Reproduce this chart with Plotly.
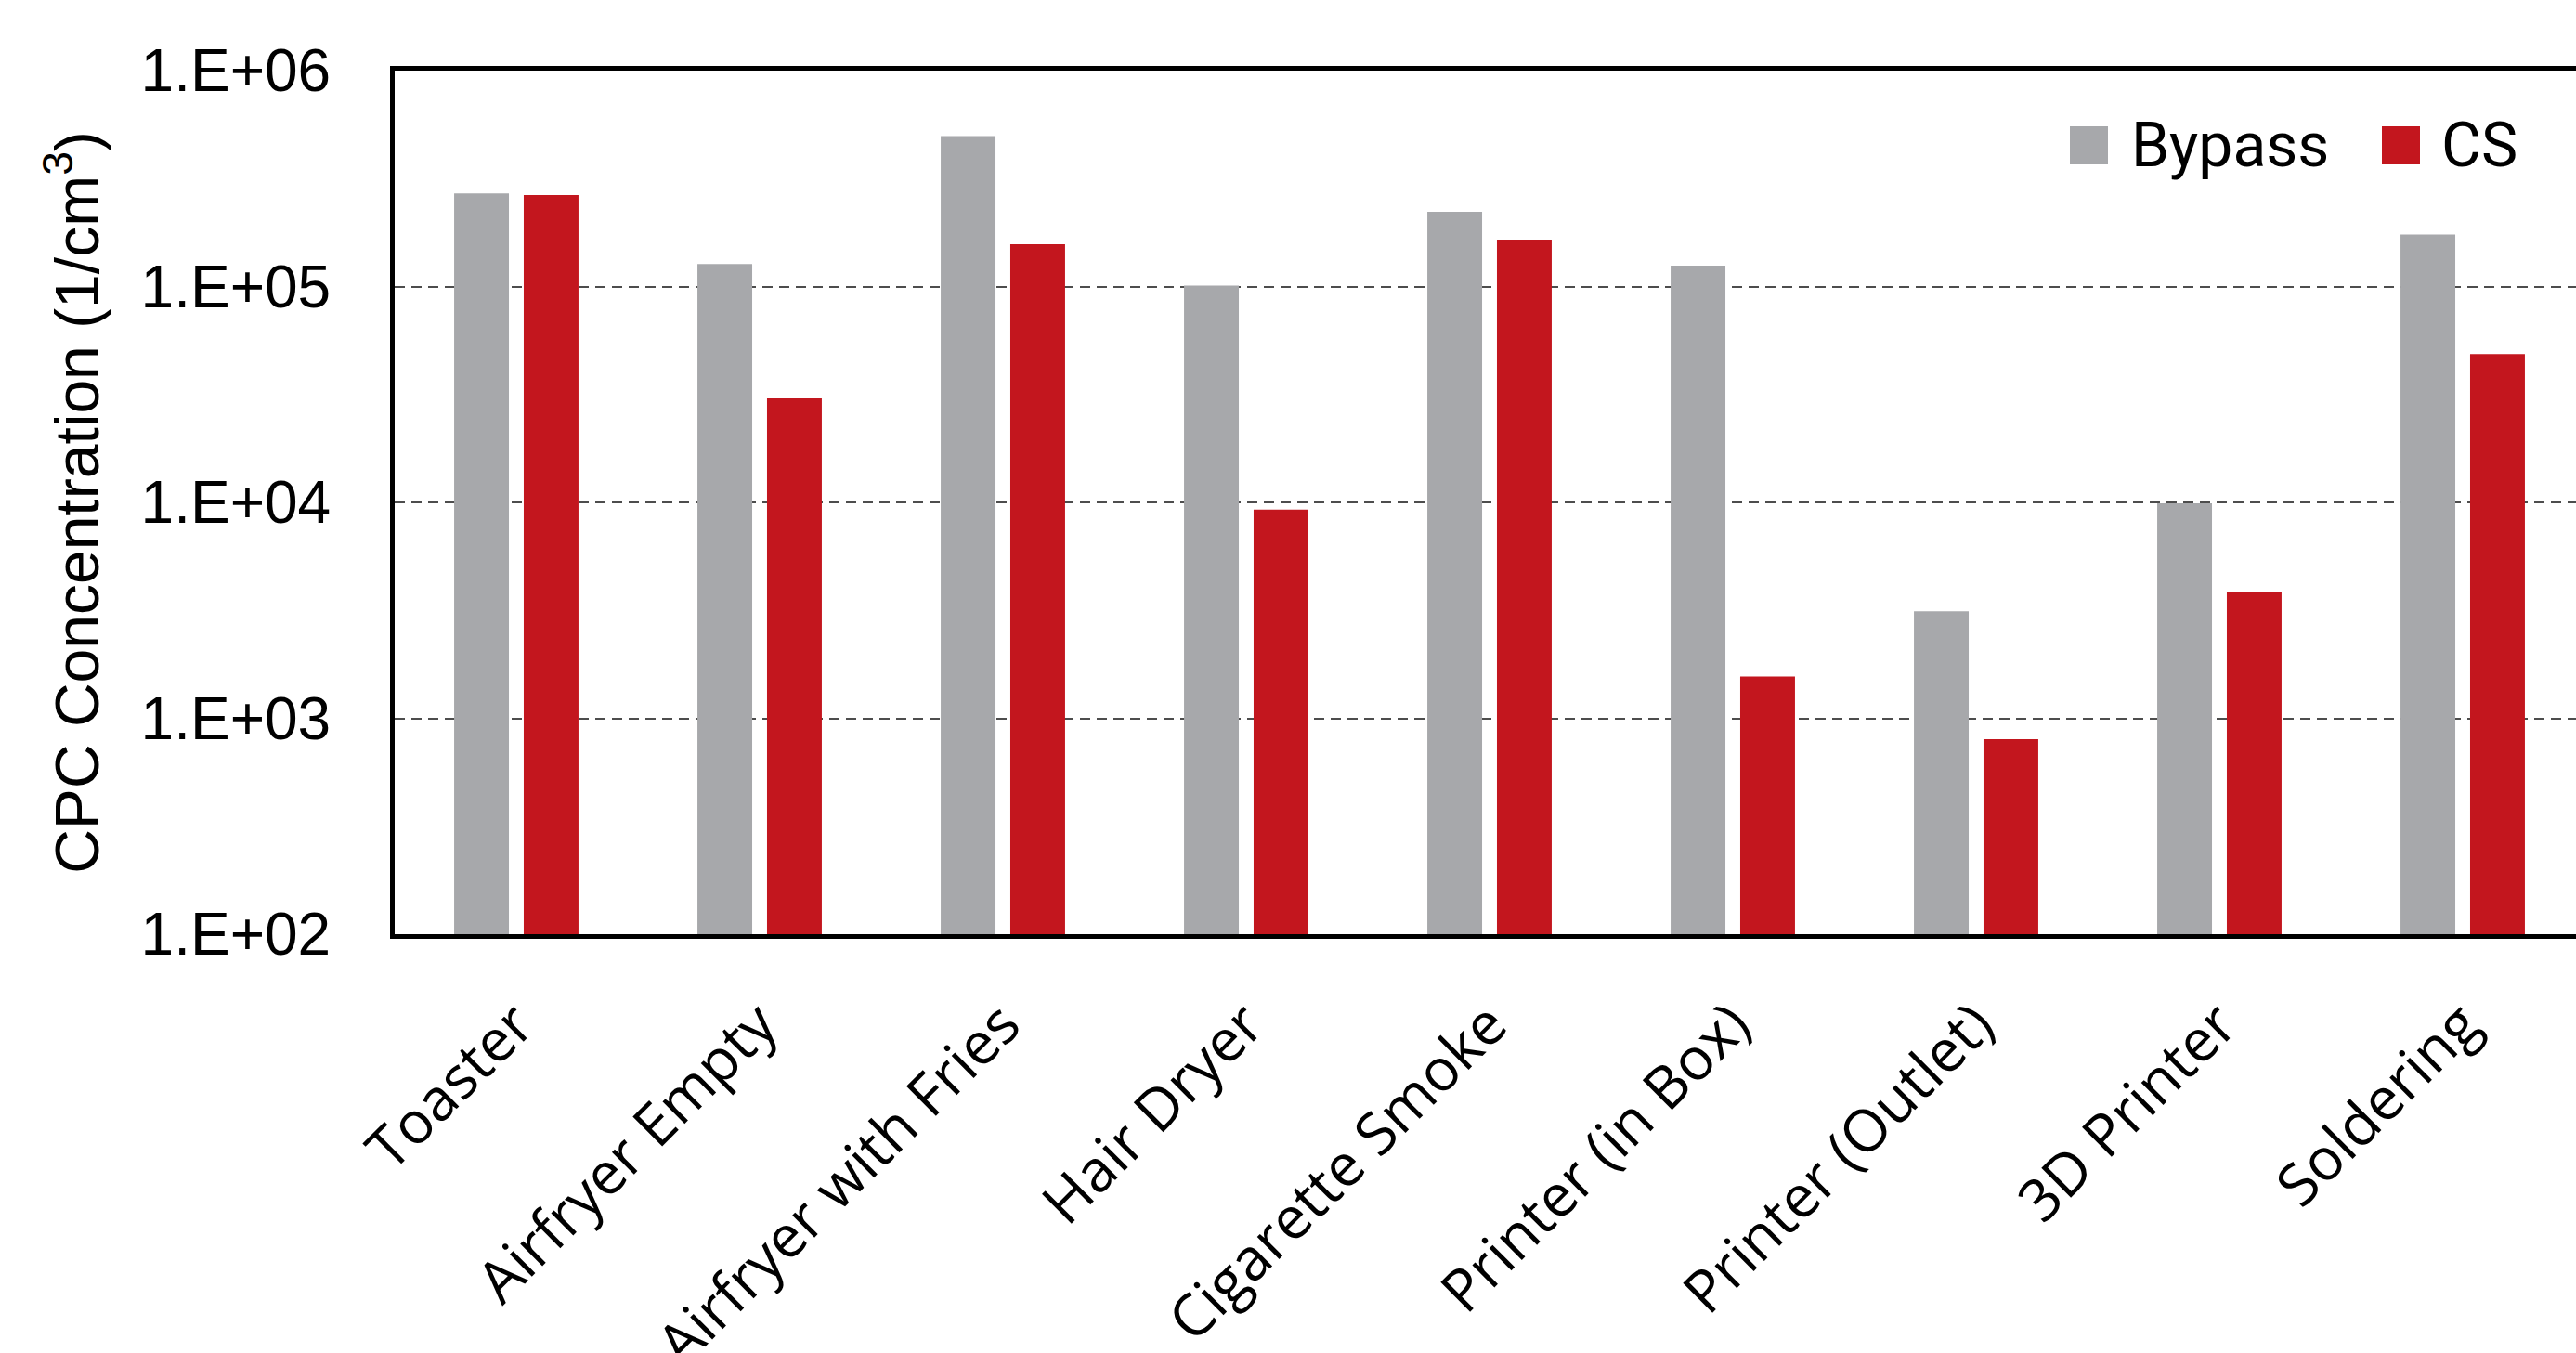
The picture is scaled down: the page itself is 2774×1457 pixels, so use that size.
import plotly.graph_objects as go

categories = ["Toaster", "Airfryer Empty", "Airfryer with Fries", "Hair Dryer",
              "Cigarette Smoke", "Printer (in Box)", "Printer (Outlet)", "3D Printer", "Soldering"]
bypass = [2.70e5, 1.27e5, 4.97e5, 1.01e5, 2.22e5, 1.25e5, 3.13e3, 9.9e3, 1.74e5]
cs = [2.65e5, 3.03e4, 1.57e5, 9.25e3, 1.65e5, 1.56e3, 8.0e2, 3.86e3, 4.86e4]
series_names = ["Bypass", "CS"]
y_tickvals = [1e2, 1e3, 1e4, 1e5, 1e6]
y_ticktext = ["1.E+02", "1.E+03", "1.E+04", "1.E+05", "1.E+06"]

GRAY = "#A7A8AB"
RED = "#C3161E"

fig = go.Figure()
fig.add_trace(go.Bar(x=categories, y=bypass, name=series_names[0], marker_color=GRAY,
                     marker_line_width=0, showlegend=False))
fig.add_trace(go.Bar(x=categories, y=cs, name=series_names[1], marker_color=RED,
                     marker_line_width=0, showlegend=False))

W, H = 2774, 1457
L, T, B = 425, 76, 451
plot_w = W - L
cat_px = 262.0
x_max = -0.5 + plot_w / cat_px

fig.update_layout(
    width=W, height=H,
    margin=dict(l=L, r=0, t=T, b=B, autoexpand=False),
    paper_bgcolor="white", plot_bgcolor="white",
    barmode="group", bargap=0.428, bargroupgap=0.213,
    showlegend=False,
    font=dict(family="Liberation Sans, Arial, sans-serif", color="black"),
)

fig.update_xaxes(
    range=[-0.5, x_max],
    showline=True, linecolor="black", linewidth=5, mirror=True,
    showgrid=False, ticks="", tickangle=-45,
    tickfont=dict(family="Open Sans, Noto Sans, sans-serif", size=63, color="black"),
    ticklabelstandoff=30,
)
fig.update_yaxes(
    type="log", range=[2, 6],
    tickvals=y_tickvals, ticktext=y_ticktext,
    showline=True, linecolor="black", linewidth=5, mirror=False,
    showgrid=True, gridcolor="#4d4d4d", gridwidth=2, griddash="11px,7px",
    ticks="", ticklabelstandoff=51,
    tickfont=dict(family="Liberation Sans, Arial, sans-serif", size=64, color="black"),
    title=dict(text="CPC Concentration (1/cm<sup>3</sup>)", standoff=25,
               font=dict(family="Liberation Sans, Arial, sans-serif", size=66, color="black")),
)

# Legend drawn in paper coordinates
def px_x(px):
    return (px - L) / plot_w

def px_y(py):
    return (H - B - py) / (H - B - T)

legend_items = [(series_names[0], GRAY, 2229, 2293), (series_names[1], RED, 2565, 2627)]
for name, color, mx, tx in legend_items:
    fig.add_shape(type="rect", xref="paper", yref="paper",
                  x0=px_x(mx), x1=px_x(mx + 41), y0=px_y(177), y1=px_y(136),
                  fillcolor=color, line=dict(width=0))
    fig.add_annotation(xref="paper", yref="paper", x=px_x(tx), y=px_y(156),
                       xanchor="left", yanchor="middle", showarrow=False,
                       text=name, font=dict(family="Roboto, sans-serif", size=66, color="black"))

fig.write_html("out.html")
